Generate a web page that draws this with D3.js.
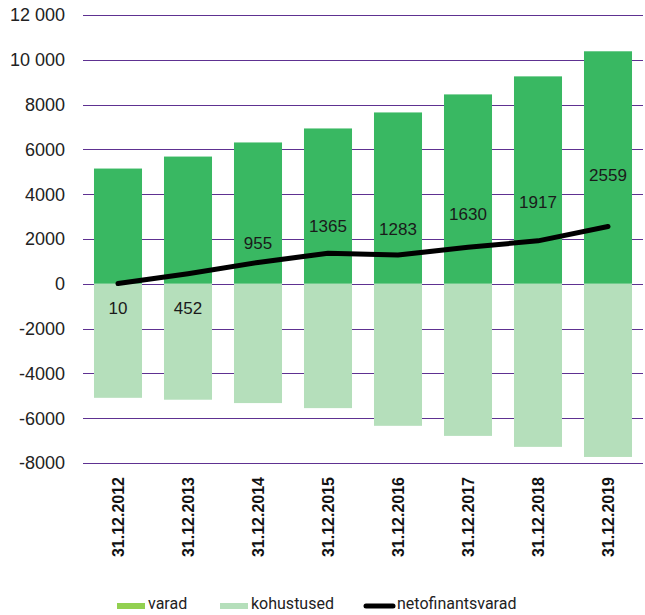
<!DOCTYPE html>
<html lang="et">
<head>
<meta charset="utf-8">
<style>
  body { margin: 0; background: #fff; }
  .grid line { stroke: #5e3191; stroke-width: 1.2px; }
  .tick-label { font-family: "Liberation Sans", Arial, sans-serif; font-size: 18px; fill: #222; }
  .x-label { font-family: "Liberation Sans", Arial, sans-serif; font-size: 16px; font-weight: bold; fill: #111; }
  .val-label { font-family: "Liberation Sans", Arial, sans-serif; font-size: 17px; fill: #1a1a1a; }
  .legend text { font-family: Roboto, "Noto Sans", sans-serif; font-size: 16px; fill: #222; }
</style>
</head>
<body>
<svg width="645" height="615"></svg>
<script src="https://cdn.jsdelivr.net/npm/d3@7"></script>
<script>
var dates = ["31.12.2012", "31.12.2013", "31.12.2014", "31.12.2015", "31.12.2016", "31.12.2017", "31.12.2018", "31.12.2019"];
var varad = [5145, 5680, 6310, 6935, 7650, 8455, 9260, 10380];
var kohustused = [-5090, -5175, -5325, -5550, -6340, -6790, -7280, -7730];
var netofinantsvarad = [10, 452, 955, 1365, 1283, 1630, 1917, 2559];
var yTicks = [-8000, -6000, -4000, -2000, 0, 2000, 4000, 6000, 8000, 10000, 12000];

var svg = d3.select("svg");
var margin = {left: 83, right: 2, top: 15, bottom: 152};
var width = 645, height = 615;

var x = d3.scaleBand().domain(dates).range([margin.left, width - margin.right]).paddingInner(0.314).paddingOuter(0.157);
var y = d3.scaleLinear().domain([-8000, 12000]).range([height - margin.bottom, margin.top]);

function fmt(v) {
    if (Math.abs(v) >= 10000) return d3.format(",")(v).replace(/,/g, " ");
    return String(v);
}

// gridlines
svg.append("g").attr("class", "grid")
    .selectAll("line").data(yTicks).enter().append("line")
    .attr("x1", margin.left).attr("x2", width - margin.right)
    .attr("y1", function (d) { return Math.round(y(d)) + 0.5; })
    .attr("y2", function (d) { return Math.round(y(d)) + 0.5; });

svg.append("g").selectAll("text").data(yTicks).enter().append("text")
    .attr("class", "tick-label")
    .attr("x", 65)
    .attr("y", function (d) { return y(d); })
    .attr("dy", "0.35em")
    .attr("text-anchor", "end")
    .text(fmt);

// bars
svg.append("g").selectAll("rect").data(varad).enter().append("rect")
    .attr("x", function (d, i) { return x(dates[i]); })
    .attr("width", x.bandwidth())
    .attr("y", function (d) { return y(d); })
    .attr("height", function (d) { return y(0) - y(d); })
    .attr("fill", "#39b862");

svg.append("g").selectAll("rect").data(kohustused).enter().append("rect")
    .attr("x", function (d, i) { return x(dates[i]); })
    .attr("width", x.bandwidth())
    .attr("y", y(0))
    .attr("height", function (d) { return y(d) - y(0); })
    .attr("fill", "#b5dfbb");

// line
var line = d3.line()
    .x(function (d, i) { return x(dates[i]) + x.bandwidth() / 2; })
    .y(function (d) { return y(d); });

svg.append("path").datum(netofinantsvarad)
    .attr("d", line)
    .attr("fill", "none")
    .attr("stroke", "#000")
    .attr("stroke-width", 5)
    .attr("stroke-linecap", "round")
    .attr("stroke-linejoin", "round");

svg.append("g").selectAll("text").data(netofinantsvarad).enter().append("text")
    .attr("class", "val-label")
    .attr("x", function (d, i) { return x(dates[i]) + x.bandwidth() / 2; })
    .attr("y", function (d) { return d < 500 ? y(0) + 24 : y(d * 1.9); })
    .attr("dy", "0.35em")
    .attr("text-anchor", "middle")
    .text(function (d) { return d; });

// x labels
svg.append("g").selectAll("text").data(dates).enter().append("text")
    .attr("class", "x-label")
    .attr("transform", function (d) { return "translate(" + (x(d) + x.bandwidth() / 2) + "," + 477 + ") rotate(-90)"; })
    .attr("dy", "0.35em")
    .attr("text-anchor", "end")
    .text(function (d) { return d; });

// legend
var legend = svg.append("g").attr("class", "legend");
legend.append("rect").attr("x", 117).attr("y", 603).attr("width", 28).attr("height", 6).attr("fill", "#92d050");
legend.append("text").attr("x", 148).attr("y", 609).text("varad");
legend.append("rect").attr("x", 220).attr("y", 603).attr("width", 28).attr("height", 6).attr("fill", "#b5dfbb");
legend.append("text").attr("x", 251).attr("y", 609).text("kohustused");
legend.append("line").attr("x1", 366).attr("x2", 393).attr("y1", 606).attr("y2", 606)
    .attr("stroke", "#000").attr("stroke-width", 5).attr("stroke-linecap", "round");
legend.append("text").attr("x", 397).attr("y", 609).text("netofinantsvarad");
</script>
</body>
</html>
